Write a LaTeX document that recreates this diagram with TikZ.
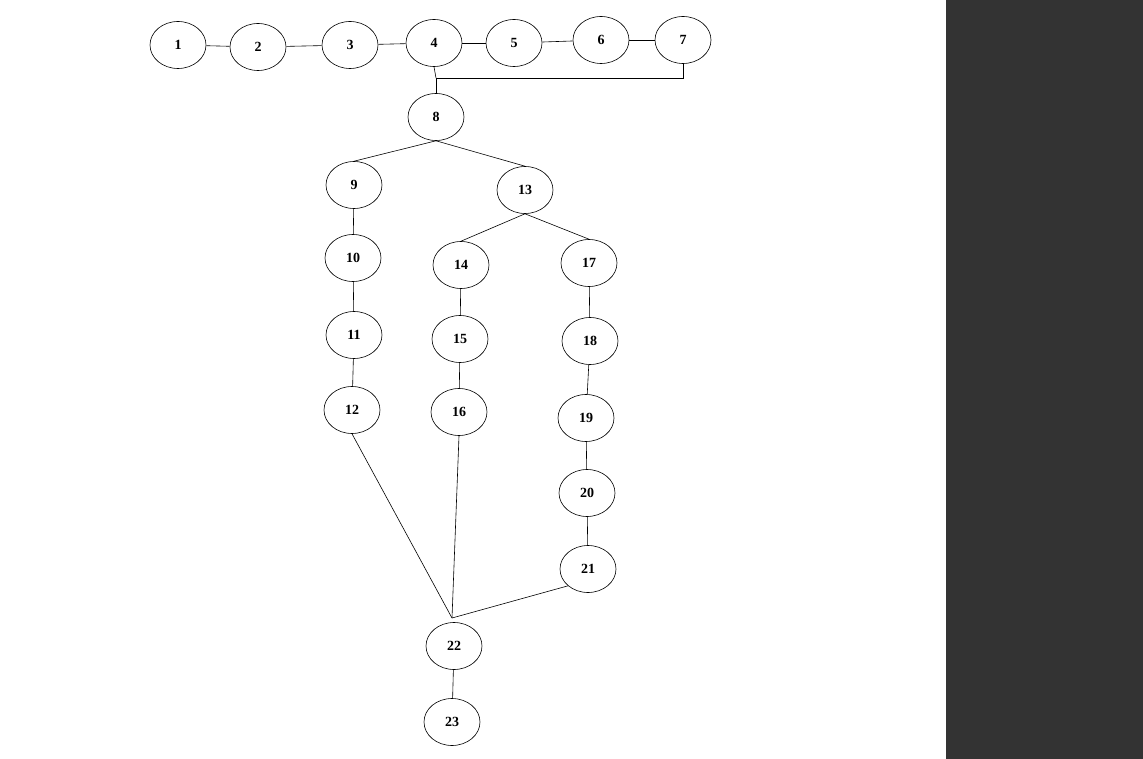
\documentclass[tikz,border=0pt]{standalone}
\usepackage{fontspec}
\setmainfont{Liberation Serif}
\usetikzlibrary{shapes.geometric}
\begin{document}
\begin{tikzpicture}[x=1pt,y=-1pt,
  vtx/.style={draw,ellipse,minimum width=56pt,minimum height=47pt,inner sep=0pt,font=\bfseries\fontsize{14}{14}\selectfont},
  every path/.style={line width=0.6pt}]
\useasboundingbox (0,0) rectangle (1143,759);
\fill[fill={rgb,255:red,51;green,51;blue,51}] (946,0) rectangle (1143,759);
\foreach \n/\x/\y in {1/178/45,2/258/47,3/350/45,4/434/43,5/514/43,6/601/40,7/683/40,8/436/117,9/354/185,13/525/190,10/353/258,14/461/265,17/589/263,11/354/335,15/460/339,18/590/341,12/352/410,16/459/412,19/586/418,20/587/493,21/588/569,22/454/646,23/452/722}
  \node[vtx] (n\n) at (\x,\y) {\n};
\draw (n1)--(n2); \draw (n2)--(n3); \draw (n3)--(n4); \draw (n4)--(n5); \draw (n5)--(n6); \draw (n6)--(n7);
\coordinate (c78) at (436,78);
\draw (n7.south) |- (c78) -- (n8.north);
\draw (n4.south) -- (c78);
\draw (n8.south) -- (n9.north); \draw (n8.south) -- (n13.north);
\draw (n9)--(n10); \draw (n10)--(n11); \draw (n11)--(n12);
\draw (n13.south) -- (n14.north); \draw (n13.south) -- (n17.north);
\draw (n14)--(n15); \draw (n15)--(n16);
\draw (n17)--(n18); \draw (n18)--(n19); \draw (n19)--(n20); \draw (n20)--(n21);
\coordinate (m) at (452,618);
\draw (n12.south) -- (m); \draw (n16.south) -- (m); \draw (n21.south west) -- (m);
\draw (n22)--(n23);
\end{tikzpicture}
\end{document}
